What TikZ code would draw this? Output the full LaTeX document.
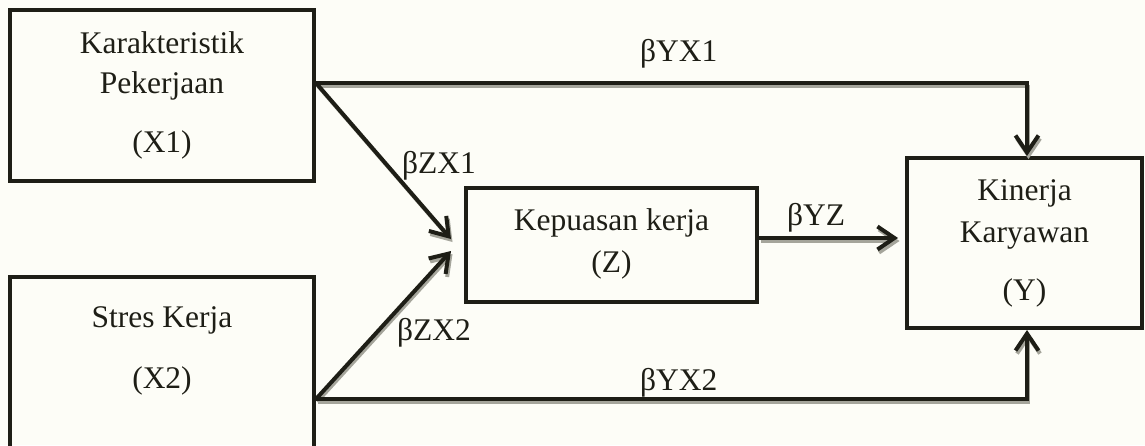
\documentclass[tikz,border=0pt]{standalone}
\usepackage{fontspec}
\setmainfont{Liberation Serif}
\usetikzlibrary{arrows.meta}
\definecolor{bg}{RGB}{253,253,247}
\definecolor{ink}{RGB}{30,30,22}
\definecolor{shade}{RGB}{165,165,155}
\begin{document}
\begin{tikzpicture}[x=1pt,y=-1pt,
  box/.style={draw=ink, line width=4pt, rectangle, inner sep=0pt},
  txt/.style={text=ink, inner sep=0pt, anchor=base, font=\fontsize{31.5}{36}\selectfont},
  lbl/.style={text=ink, inner sep=0pt, anchor=base west, font=\fontsize{31.5}{36}\selectfont},
  conn/.style={draw=ink, line width=4pt, line join=miter,
    -{Straight Barb[length=17pt,width=23pt,line width=4pt]},
    preaction={draw=shade, line width=3pt, transform canvas={xshift=1.5pt,yshift=-3pt}}}
]
\useasboundingbox (0,0) rectangle (1145,445);
\fill[bg] (0,0) rectangle (1145,445);
\clip (0,0) rectangle (1145,445);

% boxes
\node[box, minimum width=304pt, minimum height=171pt] (x1) at (162,95.5) {};
\node[box, minimum width=304pt, minimum height=244pt] (x2) at (162,399) {};
\node[box, minimum width=291pt, minimum height=114pt] (z) at (611.5,245) {};
\node[box, minimum width=235pt, minimum height=170pt] (y) at (1024.5,243) {};

% box texts
\node[txt] (t1a) at (162,53) {Karakteristik};
\node[txt] (t1b) at (162,93) {Pekerjaan};
\node[txt] (t1c) at (162,152) {(X1)};
\node[txt] (t2a) at (162,327) {Stres Kerja};
\node[txt] (t2b) at (162,388) {(X2)};
\node[txt] (tza) at (611.5,230) {Kepuasan kerja};
\node[txt] (tzb) at (611.5,272) {(Z)};
\node[txt] (tya) at (1024.5,200) {Kinerja};
\node[txt] (tyb) at (1024.5,242) {Karyawan};
\node[txt] (tyc) at (1024.5,300) {(Y)};

% connectors
\draw[conn] ([yshift=12.5pt]x1.east) -| ([xshift=2.5pt]y.north);
\draw[conn] ([yshift=12.5pt]x1.east) -- ([xshift=-13pt,yshift=6pt]z.west);
\draw[conn] (x2.east) -- ([xshift=-13pt,yshift=-6pt]z.west);
\draw[conn] ([yshift=7pt]z.east) -- ([xshift=-7pt,yshift=5pt]y.west);
\draw[conn] (x2.east) -| ([xshift=2.5pt]y.south);

% labels
\node[lbl] (lyx1) at (640,61) {βYX1};
\node[lbl] (lzx1) at (402,173) {βZX1};
\node[lbl] (lzx2) at (397,340) {βZX2};
\node[lbl] (lyz) at (787,225) {βYZ};
\node[lbl] (lyx2) at (640,390) {βYX2};
\end{tikzpicture}
\end{document}
